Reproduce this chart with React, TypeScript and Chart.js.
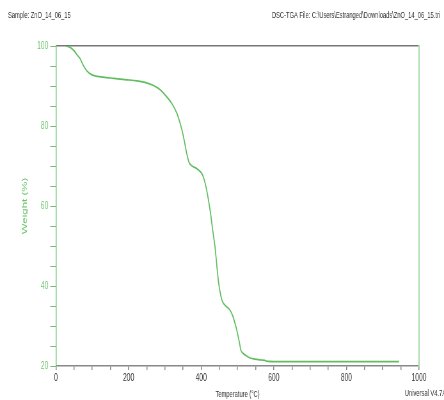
import React, { useEffect, useRef } from "react";
import { Chart, registerables } from "chart.js";

Chart.register(...registerables);

const temperatures = [
  28, 40, 50, 58, 66, 75, 85, 95, 105, 130, 160, 190, 223, 245, 267, 285, 305,
  320, 333, 340, 347, 353, 360, 367, 375, 387, 395, 401, 406, 410, 415, 420,
  426, 431, 438, 447, 452, 457, 461, 470, 479, 487, 493, 498, 502, 506, 509,
  515, 525, 535, 548, 565, 575, 580, 600, 700, 800, 945,
];
const weights = [
  100, 99.6, 98.8, 97.8, 96.9, 95.2, 93.8, 93.0, 92.6, 92.2, 91.9, 91.6, 91.3,
  90.9, 90.2, 89.2, 87.3, 85.5, 83.2, 81.3, 79.0, 76.5, 73.2, 70.8, 70.0, 69.4,
  68.8, 68.2, 67.2, 66.0, 64.0, 61.5, 58.0, 54.4, 49.8, 41.5, 38.5, 36.5, 35.7,
  34.8, 34.0, 32.5, 30.7, 29.0, 27.3, 25.5, 24.0, 23.2, 22.5, 22.0, 21.7, 21.5,
  21.4, 21.2, 21.1, 21.1, 21.1, 21.1,
];
const sampleLabel = "Sample: ZnO_14_06_15";
const fileLabel = "DSC-TGA File: C:\\Users\\Estranged\\Downloads\\ZnO_14_06_15.tri";
const versionLabel = "Universal V4.7A";
const xTitle = "Temperature (°C)";
const yTitle = "Weight (%)";

const GREEN = "#60bd60";
const LABEL_GREEN = "#6cc46c";
const FONT = "'Liberation Sans', Arial, sans-serif";
const S = 0.64; // horizontal squeeze of the original picture
const W = Math.round(444 / S);
const H = 400;

export default function App() {
  const ref = useRef<HTMLCanvasElement>(null);
  useEffect(() => {
    if (!ref.current) return;
    const textPlugin = {
      id: "headerText",
      afterDraw(chart: any) {
        const ctx = chart.ctx;
        ctx.save();
        ctx.font = `9px ${FONT}`;
        ctx.fillStyle = "#333";
        ctx.textBaseline = "middle";
        ctx.textAlign = "left";
        ctx.fillText(sampleLabel, 8 / S, 16);
        ctx.fillText(fileLabel, 272 / S, 16);
        ctx.fillText(versionLabel, 405 / S, 394);
        ctx.restore();
      },
    };
    const chart = new Chart(ref.current, {
      type: "line",
      data: {
        datasets: [
          {
            data: temperatures.map((t, i) => ({ x: t, y: weights[i] })),
            borderColor: GREEN,
            borderWidth: 1.7,
            pointRadius: 0,
            cubicInterpolationMode: "monotone",
            fill: false,
          },
        ],
      },
      plugins: [textPlugin],
      options: {
        animation: false,
        responsive: false,
        maintainAspectRatio: false,
        layout: { padding: { top: 46, right: 25 / S, left: 0, bottom: 0 } },
        plugins: { legend: { display: false }, tooltip: { enabled: false } },
        scales: {
          x: {
            type: "linear",
            position: "bottom",
            min: 0,
            max: 1000,
            afterFit: (s: any) => {
              s.height = 34;
            },
            border: { color: "#888", width: 1.5 },
            grid: { drawOnChartArea: false, tickLength: 4, color: "#888", lineWidth: 1.5 },
            ticks: {
              stepSize: 50,
              autoSkip: false,
              maxRotation: 0,
              padding: 2,
              color: "#333",
              font: { family: FONT, size: 10.5 },
              callback: (v: any) => (Number(v) % 200 === 0 ? String(v) : ""),
            },
            title: {
              display: true,
              text: xTitle,
              color: "#333",
              font: { family: FONT, size: 9 },
              padding: { top: 0, bottom: 0 },
            },
          },
          x2: {
            type: "linear",
            position: "top",
            min: 0,
            max: 1000,
            afterFit: (s: any) => {
              s.height = 0;
            },
            border: { color: "#777", width: 1.5 },
            grid: { drawOnChartArea: false, drawTicks: false },
            ticks: { display: false },
          },
          y: {
            type: "linear",
            position: "left",
            min: 20,
            max: 100,
            afterFit: (s: any) => {
              s.width = 56 / S;
            },
            border: { color: "#74c874", width: 1.5 },
            grid: { drawOnChartArea: false, tickLength: 9, color: "#7fb87f" },
            ticks: {
              stepSize: 5,
              autoSkip: false,
              padding: 3,
              color: LABEL_GREEN,
              font: { family: FONT, size: 10.5 },
              callback: (v: any) => (Number(v) % 20 === 0 ? String(v) : ""),
            },
            title: {
              display: true,
              text: yTitle,
              color: LABEL_GREEN,
              font: { family: FONT, size: 11.5 },
              padding: { top: 32, bottom: 0 },
            },
          },
          y2: {
            type: "linear",
            position: "right",
            min: 20,
            max: 100,
            afterFit: (s: any) => {
              s.width = 0;
            },
            border: { color: "#a8dca8", width: 2 },
            grid: { drawOnChartArea: false, drawTicks: false },
            ticks: { display: false },
          },
        },
      },
    } as any);
    return () => chart.destroy();
  }, []);
  return (
    <div style={{ position: "absolute", left: 0, top: 0, width: 444, height: H, overflow: "hidden", background: "#fff" }}>
      <div style={{ width: W, height: H, transform: `scaleX(${444 / W})`, transformOrigin: "0 0" }}>
        <canvas ref={ref} width={W} height={H} style={{ width: W, height: H, display: "block" }} />
      </div>
    </div>
  );
}
